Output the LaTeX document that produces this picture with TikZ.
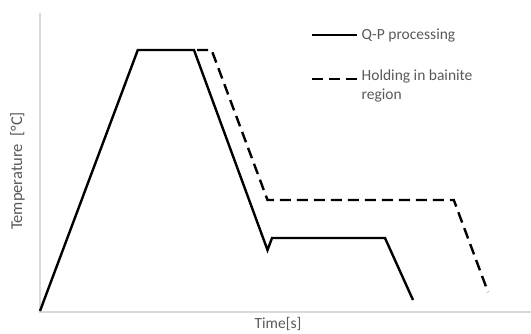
\documentclass[tikz,border=0pt]{standalone}
\usepackage{fontspec}
\setmainfont{Carlito}
\definecolor{txtgray}{HTML}{595959}
\definecolor{axgray}{HTML}{D9D9D9}
\begin{document}
\begin{tikzpicture}[x=1pt,y=-1pt,
  curve/.style={line width=2.4pt,black,line join=miter},
  dcurve/.style={curve,dash pattern=on 11pt off 6pt},
  axis/.style={line width=1.2pt,axgray},
  lbl/.style={text=txtgray,font=\fontsize{15.5}{19}\selectfont,inner sep=0pt}]
\useasboundingbox (0,0) rectangle (531,333);
% axes
\coordinate (ytop) at (40,13);
\coordinate (orig) at (40,312);
\coordinate (xend) at (531,312);
\draw[axis] (ytop) -- (orig) -- (xend);
% solid path
\coordinate (s1) at (40,311);
\coordinate (s2) at (137.8,50);
\coordinate (s3) at (194,50);
\coordinate (s4) at (267.5,250);
\coordinate (s5) at (272,238);
\coordinate (s6) at (385,238);
\coordinate (s7) at (413,300);
\draw[curve] (s1) -- (s2) -- (s3) -- (s4) -- (s5) -- (s6) -- (s7);
% dashed path
\coordinate (d1) at (197,50);
\coordinate (d2) at (211.6,50);
\coordinate (d3) at (267.5,200);
\coordinate (d4) at (453.8,200);
\coordinate (d5) at (488,292);
\draw[dcurve] (d1) -- (d2) -- (d3) -- (d4) -- (d5);
% legend
\coordinate (l1a) at (312,35);
\coordinate (l1b) at (357,35);
\draw[curve] (l1a) -- (l1b);
\node[lbl,anchor=west] (lt1) at (361.5,35) {Q-P processing};
\coordinate (l2a) at (312,79);
\coordinate (l2b) at (357,79);
\draw[curve,dash pattern=on 11pt off 6pt] (l2a) -- (l2b);
\node[lbl,anchor=north west,align=left] (lt2) at (361.5,70) {Holding in bainite\\region};
% axis labels
\node[lbl,rotate=90,font=\fontsize{16.5}{19}\selectfont] (ylab) at (17.5,171) {Temperature\ \ [°C]};
\node[lbl,anchor=south] (xlab) at (278,330.5) {Time[s]};
\end{tikzpicture}
\end{document}
